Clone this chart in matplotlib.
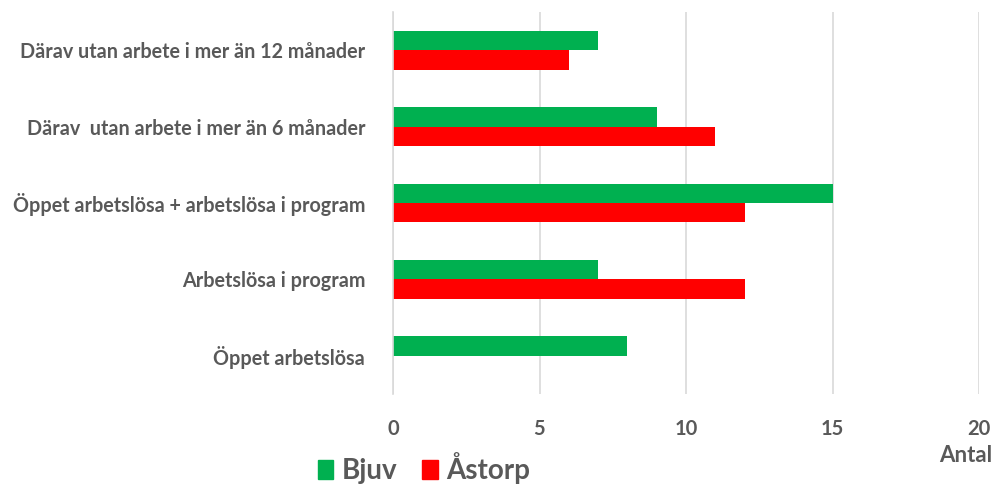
import matplotlib
matplotlib.use("Agg")
import matplotlib.pyplot as plt
from matplotlib.patches import Patch

# ── Data ──────────────────────────────────────────────────────────────
categories = [
    "Öppet arbetslösa",
    "Arbetslösa i program",
    "Öppet arbetslösa + arbetslösa i program",
    "Därav  utan arbete i mer än 6 månader",
    "Därav utan arbete i mer än 12 månader",
]
bjuv = [8, 7, 15, 9, 7]
astorp = [0, 12, 12, 11, 6]
xticks = [0, 5, 10, 15, 20]

GREEN = "#00B050"
RED = "#FF0000"
TEXT = "#595959"

plt.rcParams["font.family"] = ["Lato", "DejaVu Sans"]
plt.rcParams["font.weight"] = "bold"

fig = plt.figure(figsize=(9.95, 4.84), dpi=100)
ax = fig.add_axes([393 / 995, 1 - 394 / 484, (979 - 393) / 995, 382 / 484])

h = 0.255
ys = range(len(categories))
ax.barh([y + h / 2 for y in ys], bjuv, height=h, color=GREEN)
ax.barh([y - h / 2 for y in ys], astorp, height=h, color=RED)

ax.set_xlim(0, 20)
ax.set_ylim(-0.5, len(categories) - 0.5)
ax.set_xticks(xticks)
ax.set_yticks(list(ys))
ax.set_yticklabels(categories)
ax.tick_params(axis="y", length=0, pad=20, labelsize=14.2, labelcolor=TEXT)
ax.tick_params(axis="x", length=0, pad=18, labelsize=14.5, labelcolor=TEXT)
ax.xaxis.grid(True, color="#D9D9D9", linewidth=1.2)
ax.set_axisbelow(True)
for s in ["top", "right", "bottom"]:
    ax.spines[s].set_visible(False)
ax.spines["left"].set_color("#D9D9D9")
ax.spines["left"].set_linewidth(1.2)

fig.text(992 / 995, 1 - 456 / 484, "Antal", ha="right", va="center",
         fontsize=16, color=TEXT, fontweight="bold")

handles = [Patch(color=GREEN, label="Bjuv"), Patch(color=RED, label="Åstorp")]
fig.legend(handles=handles, loc="center", bbox_to_anchor=(424 / 995, 1 - 468 / 484),
           ncol=2, frameon=False, labelcolor=TEXT,
           handlelength=0.55, handleheight=0.65, handletextpad=0.3, columnspacing=0.9,
           prop={"family": ["Lato", "DejaVu Sans"], "weight": "bold", "size": 20})

fig.savefig("out.png", dpi=100)
